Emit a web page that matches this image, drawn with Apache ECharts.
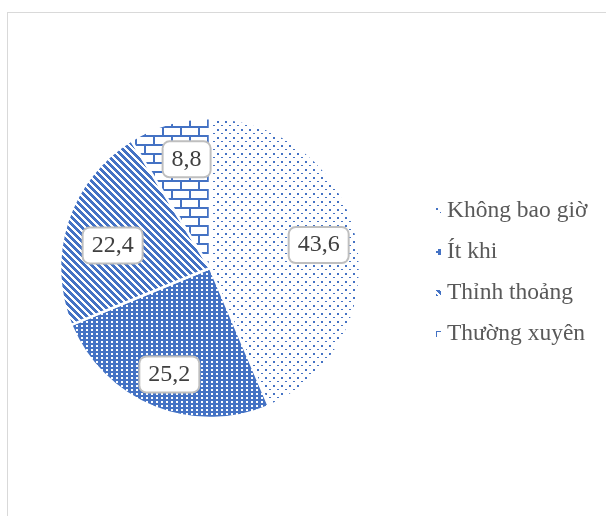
<!DOCTYPE html>
<html>
<head>
<meta charset="utf-8">
<script src="https://cdn.jsdelivr.net/npm/echarts@6/dist/echarts.min.js"></script>
<style>
  html, body { margin: 0; padding: 0; background: #fff; }
  #chart { position: absolute; left: 0; top: 0; width: 606px; height: 516px; }
  #frame { position: absolute; left: 7px; top: 12px; width: 700px; height: 600px;
           border: 1.5px solid #d9d9d9; pointer-events: none; box-sizing: border-box; }
</style>
</head>
<body>
<div id="chart"></div>
<div id="frame"></div>
<script>
// Survey answers and their shares (%)
const categories = ['Không bao giờ', 'Ít khi', 'Thỉnh thoảng', 'Thường xuyên'];
const shares = [43.6, 25.2, 22.4, 8.8];

const BLUE = '#4472C4';

function makeCanvas(w, h, draw) {
  const c = document.createElement('canvas');
  c.width = w; c.height = h;
  const ctx = c.getContext('2d');
  draw(ctx, w, h);
  return c;
}

// Sparse dotted fill
const dots = makeCanvas(8, 8, (ctx, w, h) => {
  ctx.fillStyle = '#fff'; ctx.fillRect(0, 0, w, h);
  ctx.fillStyle = BLUE;
  ctx.fillRect(1, 1, 2, 2);
  ctx.fillRect(5, 5, 2, 1);
});

// Solid blue with small white squares
const grid = makeCanvas(5, 4, (ctx, w, h) => {
  ctx.fillStyle = BLUE; ctx.fillRect(0, 0, w, h);
  ctx.fillStyle = '#fff';
  ctx.fillRect(1, 1, 2, 2);
});

// Wide downward diagonal stripes
const stripes = makeCanvas(7, 7, (ctx, w, h) => {
  ctx.fillStyle = '#fff'; ctx.fillRect(0, 0, w, h);
  ctx.fillStyle = BLUE;
  for (let y = 0; y < h; y++) {
    for (let x = 0; x < w; x++) {
      const m = ((x - y) % 7 + 7) % 7;
      if (m < 4) ctx.fillRect(x, y, 1, 1);
    }
  }
});

// Horizontal brick fill
const bricks = makeCanvas(18, 18, (ctx, w, h) => {
  ctx.fillStyle = '#fff'; ctx.fillRect(0, 0, w, h);
  ctx.fillStyle = BLUE;
  ctx.fillRect(0, 0, w, 2);
  ctx.fillRect(0, 9, w, 2);
  ctx.fillRect(0, 0, 2, 9);
  ctx.fillRect(9, 9, 2, 9);
});

const fills = [dots, grid, stripes, bricks];

// Small nudges of each value box along the slice
const labelNudge = [[-4, 0], [3, 0], [12, 13], [8, 2]];

const fmt = v => v.toFixed(1).replace('.', ',');

const sliceData = categories.map((name, i) => ({
  name: name,
  value: shares[i],
  itemStyle: { color: { image: fills[i], repeat: 'repeat' } }
}));

const labelData = categories.map((name, i) => ({
  name: name,
  value: shares[i],
  label: { offset: labelNudge[i] }
}));

const chart = echarts.init(document.getElementById('chart'), null, { renderer: 'canvas' });

chart.setOption({
  animation: false,
  backgroundColor: 'transparent',
  legend: {
    orient: 'vertical',
    left: 429,
    top: 194,
    itemWidth: 7,
    itemHeight: 8,
    itemGap: 17,
    icon: 'rect',
    data: categories,
    textStyle: {
      fontFamily: 'Liberation Serif',
      fontSize: 23.5,
      lineHeight: 24,
      color: '#595959'
    }
  },
  series: [
    {
      type: 'pie',
      center: [210, 268],
      radius: [0, 150],
      startAngle: 90,
      clockwise: true,
      label: { show: false },
      labelLine: { show: false },
      itemStyle: { borderColor: '#fff', borderWidth: 2.5 },
      emphasis: { disabled: true },
      data: sliceData
    },
    {
      type: 'pie',
      center: [210, 268],
      radius: [76, 148],
      startAngle: 90,
      clockwise: true,
      silent: true,
      itemStyle: { color: 'transparent', borderWidth: 0 },
      labelLine: { show: false },
      emphasis: { disabled: true },
      label: {
        show: true,
        position: 'inside',
        formatter: p => fmt(p.value),
        fontFamily: 'Liberation Serif',
        fontSize: 24,
        lineHeight: 28,
        color: '#404040',
        backgroundColor: '#fff',
        borderColor: '#bfbfbf',
        borderWidth: 2,
        borderRadius: 6,
        padding: [3, 8]
      },
      data: labelData
    }
  ]
});
</script>
</body>
</html>
